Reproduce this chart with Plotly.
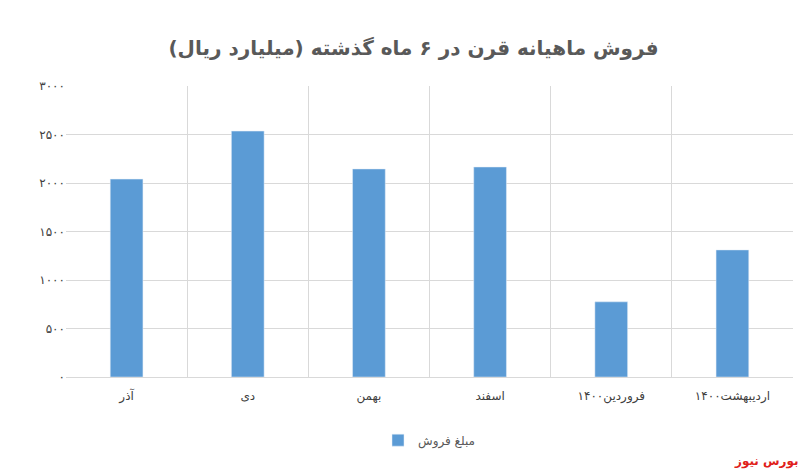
import plotly.graph_objects as go

months = ["آذر", "دی", "بهمن", "اسفند", "فروردین۱۴۰۰", "اردیبهشت۱۴۰۰"]
sales = [2040, 2535, 2145, 2165, 775, 1310]
tick_vals = [0, 500, 1000, 1500, 2000, 2500, 3000]
tick_text = ["٠", "۵۰۰", "۱۰۰۰", "۱۵۰۰", "۲۰۰۰", "۲۵۰۰", "۳۰۰۰"]

fig = go.Figure()
fig.add_trace(go.Bar(x=months, y=sales, name="مبلغ فروش", marker_color="#5b9bd5", width=0.27))

fig.update_layout(
    width=811, height=472,
    title=dict(text="<b>فروش ماهیانه قرن در ۶ ماه گذشته (میلیارد ریال)</b>", x=0.5, xanchor="center",
               y=0.915, yanchor="middle",
               font=dict(size=20, color="#595959", family="DejaVu Sans")),
    font=dict(family="DejaVu Sans", size=12, color="#595959"),
    plot_bgcolor="white", paper_bgcolor="white",
    margin=dict(l=58, r=26, t=78, b=103, autoexpand=False),
    showlegend=True,
    legend=dict(orientation="h", x=0.5, xanchor="center", y=-0.217, yanchor="middle", font=dict(size=12)),
    xaxis=dict(showgrid=True, gridcolor="#d9d9d9", linecolor="#d9d9d9", showline=True,
               tickfont=dict(size=12, color="#404040"), ticklabelstandoff=8),
    yaxis=dict(range=[0, 3000], tickvals=tick_vals, ticktext=tick_text, showgrid=True,
               gridcolor="#d9d9d9", zeroline=False, tickfont=dict(size=12, color="#404040")),
)
fig.update_xaxes(tickson="boundaries")
fig.add_annotation(text="<b>بورس نیوز</b>", xref="paper", yref="paper", x=1.0, y=-0.29,
                   xanchor="right", xshift=8, yanchor="middle", showarrow=False,
                   font=dict(color="#e0201a", size=12))
fig.write_html("out.html")
